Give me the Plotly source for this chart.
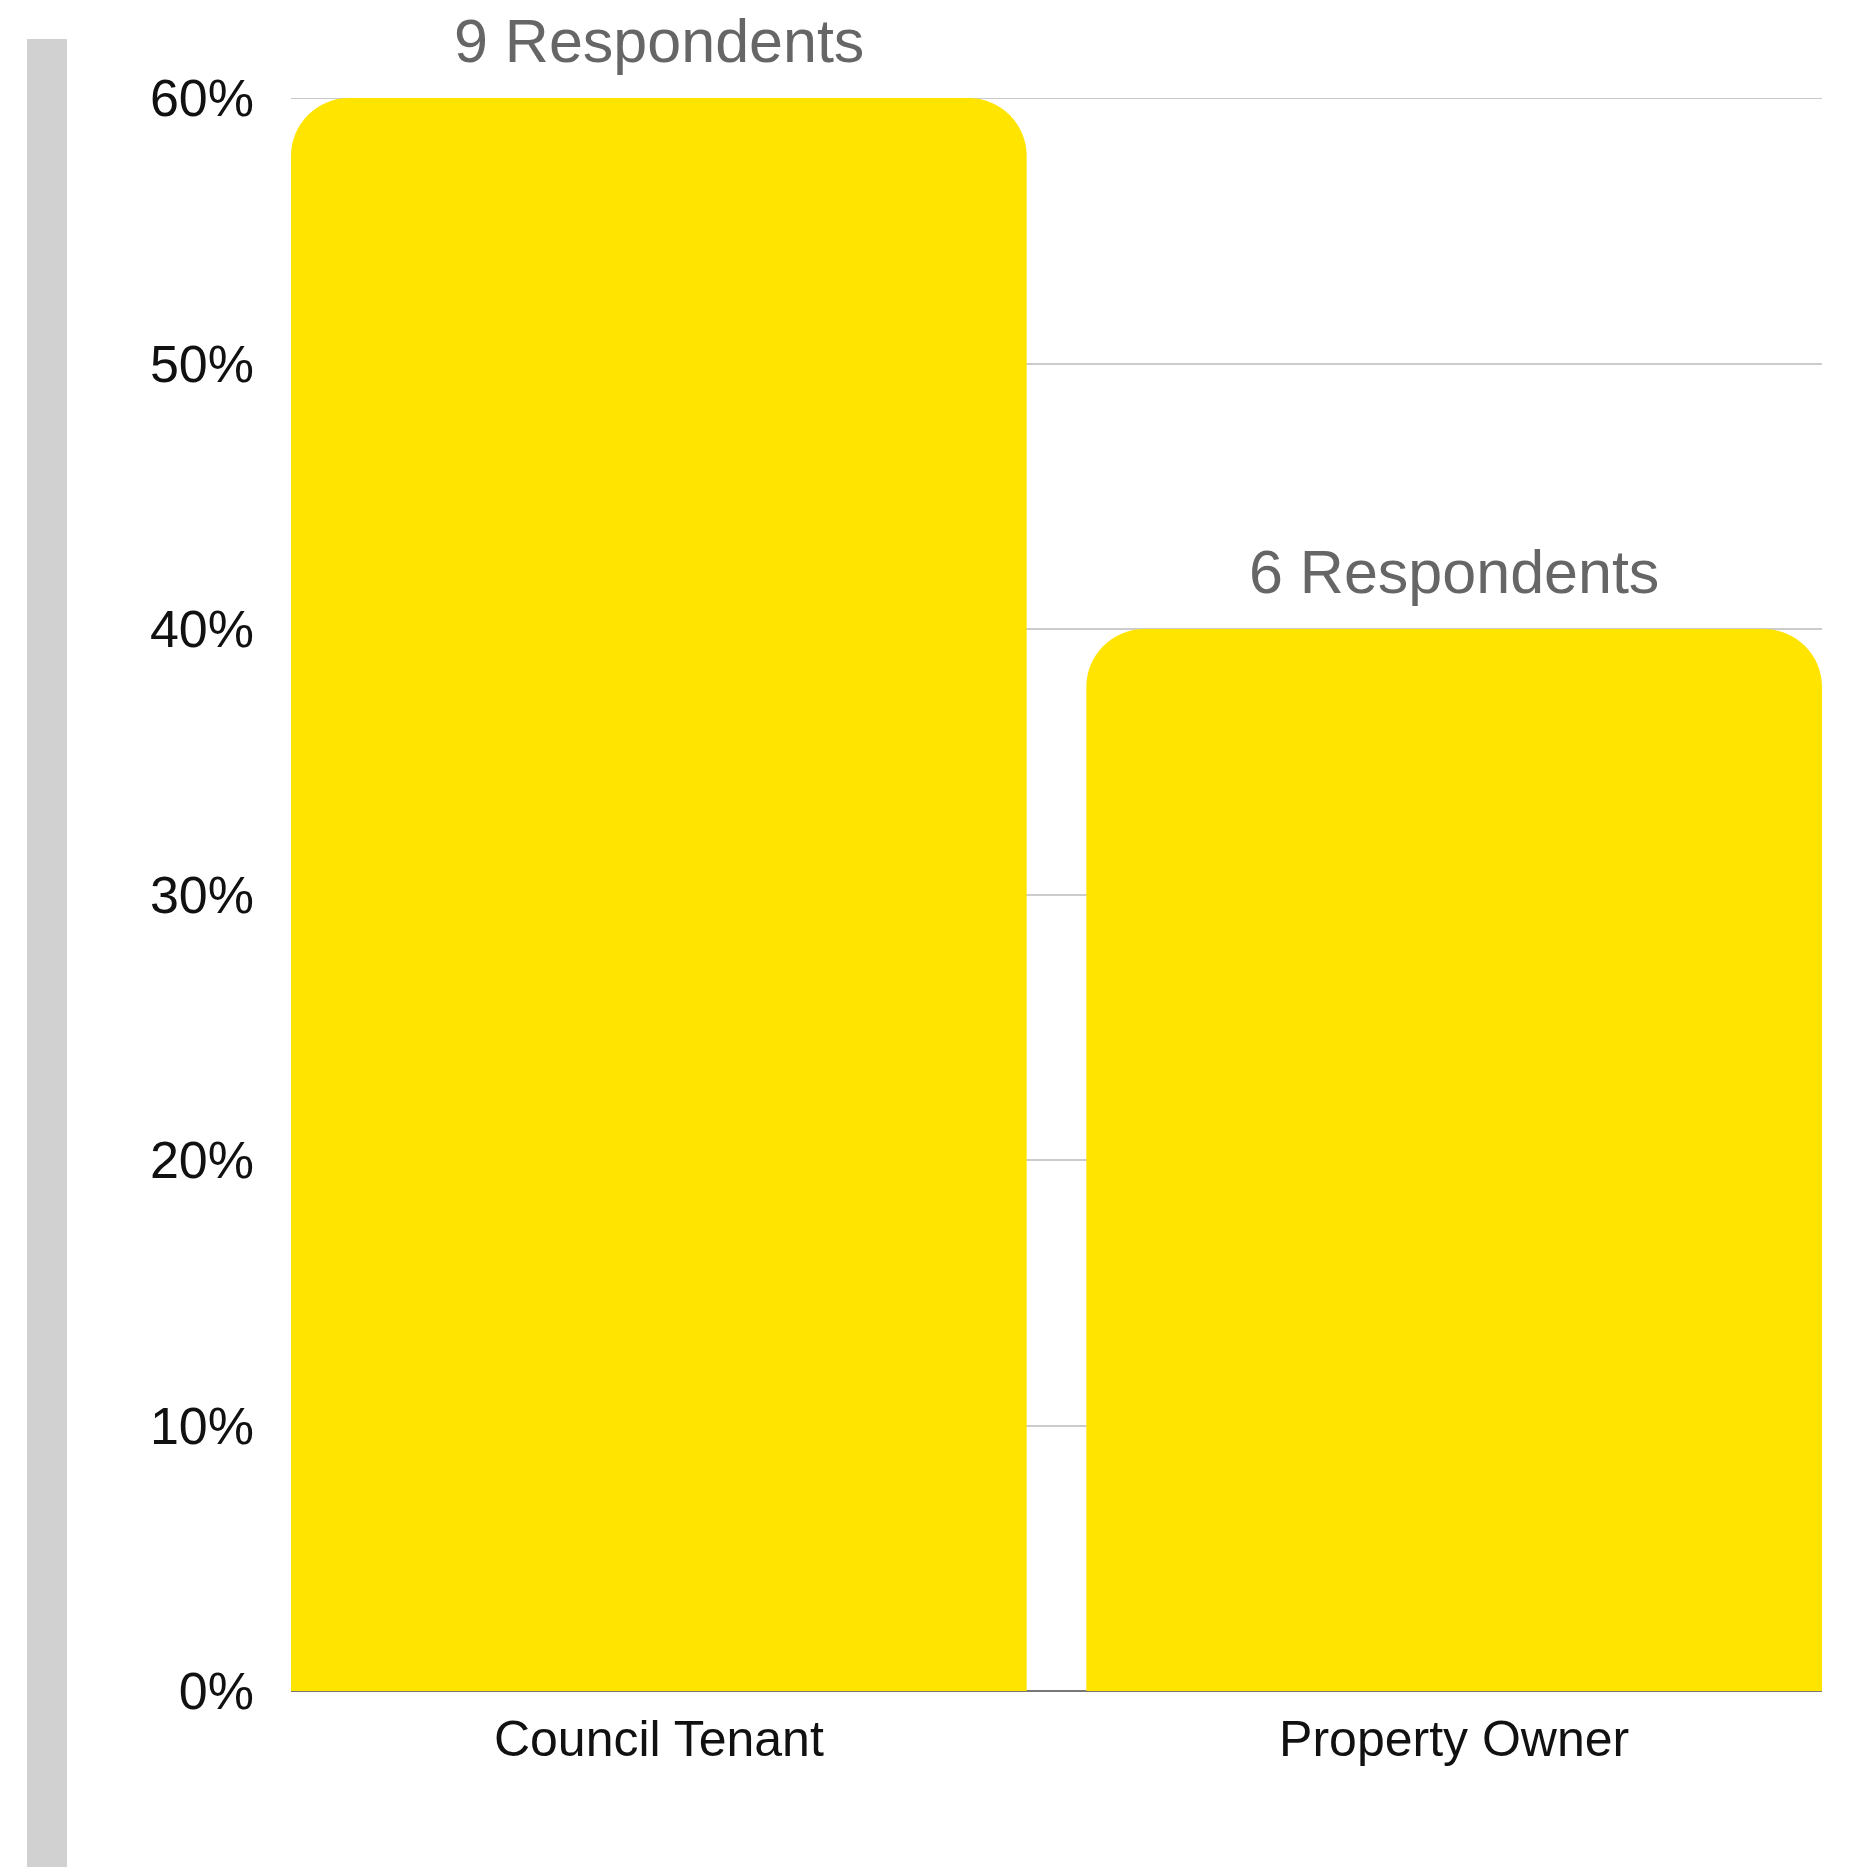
import plotly.graph_objects as go

categories = ["Council Tenant", "Property Owner"]
shares = [0.60, 0.40]
respondents = [9, 6]
labels = [f"{n} Respondents" for n in respondents]
tick_vals = [0, 0.1, 0.2, 0.3, 0.4, 0.5, 0.6]
tick_text = ["0%", "10%", "20%", "30%", "40%", "50%", "60%"]

FONT = "Liberation Sans, Arial, sans-serif"
W, H = 1852, 1867
ML, MR, MT, MB = 283, 38, 90, 184
PW, PH = W - ML - MR, H - MT - MB

fig = go.Figure(
    go.Bar(
        x=categories,
        y=shares,
        marker=dict(color="#FFE400", line=dict(width=0)),
        hoverinfo="skip",
    )
)

for c, v, t in zip(categories, shares, labels):
    fig.add_annotation(
        x=c, y=v, text=t, showarrow=False, yanchor="bottom", yshift=22,
        borderpad=0,
        font=dict(family=FONT, size=61, color="#666666"),
    )

# top gridline at the range edge (plotly omits it there)
fig.add_shape(
    type="line", xref="paper", yref="y",
    x0=0, x1=1, y0=tick_vals[-1], y1=tick_vals[-1],
    line=dict(color="#C8C8C8", width=2), layer="below",
)

# decorative grey side bar
fig.add_shape(
    type="rect", xref="paper", yref="paper",
    x0=(19 - ML) / PW, x1=(59 - ML) / PW,
    y0=(H - MB - H) / PH, y1=(H - MB - 31) / PH,
    fillcolor="#D1D1D1", line=dict(width=0), layer="above",
)

fig.update_layout(
    width=W, height=H,
    margin=dict(l=ML, r=MR, t=MT, b=MB, pad=0),
    paper_bgcolor="white", plot_bgcolor="white",
    bargap=0.075, barcornerradius=58,
    showlegend=False,
    font=dict(family=FONT, color="#111111"),
)
fig.update_xaxes(
    range=[-0.4625, 1.4625], showgrid=False, showline=False, zeroline=False,
    tickfont=dict(family=FONT, size=50, color="#111111"),
    ticks="", ticklabelstandoff=14,
)
fig.update_yaxes(
    range=[0, 0.6], tickvals=tick_vals, ticktext=tick_text,
    showgrid=True, gridcolor="#CCCCCC", gridwidth=1.5,
    zeroline=True, zerolinecolor="#777777", zerolinewidth=2,
    showline=False, ticks="", ticklabelstandoff=36,
    tickfont=dict(family=FONT, size=52, color="#111111"),
)

fig.write_html("out.html")
